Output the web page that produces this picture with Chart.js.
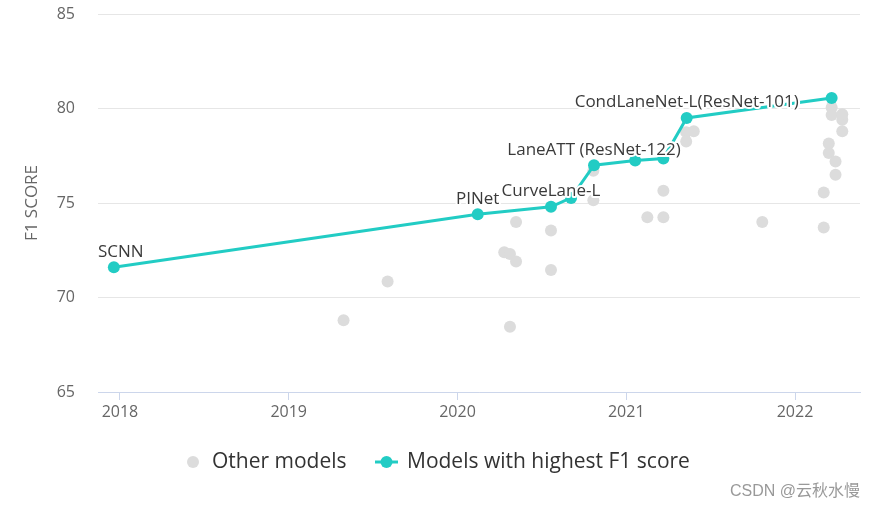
<!DOCTYPE html>
<html>
<head>
    <title>F1 score over time</title>
    <script src="https://cdn.jsdelivr.net/npm/chart.js@4.4.0/dist/chart.umd.min.js"></script>
    <style>
        body { margin: 0; background: #fff; }
        #wrap { width: 875px; height: 510px; }
    </style>
</head>
<body>
<div id="wrap"><canvas id="myChart" width="875" height="510"></canvas></div>

<script>
// models with the highest F1 score at their date (decimal year)
var bestYears = [2017.964, 2020.12, 2020.554, 2020.673, 2020.809, 2021.053, 2021.22, 2021.358, 2022.217]
var bestF1 = [71.6, 74.4, 74.8, 75.27, 77.0, 77.25, 77.35, 79.5, 80.55]
var bestNames = ["SCNN", "PINet", "CurveLane-L", "", "LaneATT (ResNet-122)", "", "", "CondLaneNet-L(ResNet-101)", ""]

// all the other models
var otherYears = [2019.325, 2019.586, 2020.277, 2020.311, 2020.311, 2020.347, 2020.347, 2020.554, 2020.554,
    2020.805, 2020.805, 2021.125, 2021.22, 2021.22, 2021.355, 2021.4, 2021.355, 2021.806,
    2022.17, 2022.17, 2022.2, 2022.2, 2022.24, 2022.24, 2022.217, 2022.217, 2022.28, 2022.28, 2022.28]
var otherF1 = [68.8, 70.85, 72.4, 72.3, 68.45, 74.0, 71.9, 73.55, 71.45,
    75.15, 76.7, 74.25, 75.65, 74.25, 78.75, 78.8, 78.25, 74.0,
    73.7, 75.55, 77.65, 78.15, 76.5, 77.2, 80.05, 79.65, 78.8, 79.4, 79.7]

var yearTicks = [2018, 2019, 2020, 2021, 2022]
var seriesNames = ["Other models", "Models with highest F1 score"]

const FONT = "'Open Sans', 'Noto Sans', sans-serif"
const TEAL = "#22CCC4"
const GREY = "#dcdcdc"

function toPoints(xs, ys) {
    var out = []
    for (var i = 0; i < xs.length; i++) out.push({x: xs[i], y: ys[i]})
    return out
}

// names above the best points, with a white halo like the original
const pointLabels = {
    id: "pointLabels",
    afterDatasetsDraw(chart) {
        const ctx = chart.ctx
        const meta = chart.getDatasetMeta(1)
        const area = chart.chartArea
        ctx.save()
        ctx.font = "17px " + FONT
        ctx.textAlign = "center"
        ctx.textBaseline = "alphabetic"
        ctx.lineJoin = "round"
        meta.data.forEach(function (pt, i) {
            const name = bestNames[i]
            if (!name) return
            const w = ctx.measureText(name).width
            let x = Math.max(pt.x, area.left + w / 2)
            let y = pt.y - 10.5
            ctx.strokeStyle = "#fff"
            ctx.lineWidth = 4
            ctx.strokeText(name, x, y)
            ctx.fillStyle = "#3a3a3a"
            ctx.fillText(name, x, y)
        })
        ctx.restore()
    }
}

// legend under the plot + watermark
const bottomLegend = {
    id: "bottomLegend",
    afterDraw(chart) {
        const ctx = chart.ctx
        const y = 462
        ctx.save()
        ctx.font = "21px " + FONT
        ctx.textBaseline = "middle"
        ctx.textAlign = "left"

        ctx.fillStyle = GREY
        ctx.beginPath()
        ctx.arc(193, y, 6, 0, Math.PI * 2)
        ctx.fill()
        ctx.fillStyle = "#333"
        ctx.fillText(seriesNames[0], 212, y)

        ctx.strokeStyle = TEAL
        ctx.lineWidth = 3
        ctx.beginPath()
        ctx.moveTo(375, y)
        ctx.lineTo(398, y)
        ctx.stroke()
        ctx.fillStyle = TEAL
        ctx.beginPath()
        ctx.arc(386.5, y, 6, 0, Math.PI * 2)
        ctx.fill()
        ctx.fillStyle = "#333"
        ctx.fillText(seriesNames[1], 407, y)

        ctx.font = "16px 'Liberation Sans', 'Noto Sans CJK SC', sans-serif"
        ctx.textAlign = "right"
        ctx.fillStyle = "#999"
        ctx.fillText("CSDN @云秋水慢", 860, 492)
        ctx.restore()
    }
}

new Chart("myChart", {
    type: "scatter",
    data: {
        datasets: [{
            label: seriesNames[0],
            data: toPoints(otherYears, otherF1),
            backgroundColor: GREY,
            borderWidth: 0,
            pointRadius: 6,
            order: 2
        }, {
            label: seriesNames[1],
            data: toPoints(bestYears, bestF1),
            showLine: true,
            borderColor: TEAL,
            borderWidth: 3,
            backgroundColor: TEAL,
            pointBackgroundColor: TEAL,
            pointBorderWidth: 0,
            pointRadius: 6,
            tension: 0,
            order: 1
        }]
    },
    options: {
        responsive: false,
        animation: false,
        layout: {padding: {top: 14, left: 0, right: 15, bottom: 88}},
        plugins: {
            legend: {display: false},
            tooltip: {enabled: false}
        },
        scales: {
            x: {
                type: "linear",
                min: 2017.87,
                max: 2022.385,
                afterFit: function (s) { s.height = 30 },
                afterBuildTicks: function (s) {
                    s.ticks = yearTicks.map(function (v) { return {value: v} })
                },
                ticks: {
                    color: "#666",
                    font: {family: FONT, size: 16},
                    padding: 3,
                    maxRotation: 0,
                    callback: function (v) { return String(v) }
                },
                grid: {drawOnChartArea: false, drawTicks: true, tickLength: 8, color: "#ccd6eb"},
                border: {color: "#ccd6eb", width: 1}
            },
            y: {
                min: 65,
                max: 85,
                afterFit: function (s) {
                    s.width = 98
                    s.paddingTop = 0
                    s.paddingBottom = 0
                },
                ticks: {
                    stepSize: 5,
                    color: "#666",
                    font: {family: FONT, size: 16},
                    padding: 23
                },
                grid: {color: "#e6e6e6", drawTicks: false},
                border: {display: false},
                title: {
                    display: true,
                    text: "F1 SCORE",
                    color: "#666",
                    font: {family: FONT, size: 17},
                    padding: {top: 22, bottom: 0}
                }
            }
        }
    },
    plugins: [pointLabels, bottomLegend]
});
</script>
</body>
</html>
